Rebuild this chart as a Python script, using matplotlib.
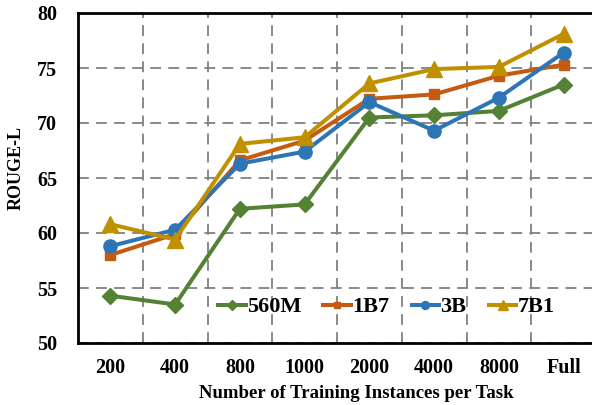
import numpy as np
import matplotlib.pyplot as plt
from matplotlib.ticker import FixedLocator

plt.rcParams['font.family'] = ['Liberation Serif', 'DejaVu Serif']
plt.rcParams['font.weight'] = 'bold'

# Data
categories = ['200', '400', '800', '1000', '2000', '4000', '8000', 'Full']
m560 = [54.3, 53.5, 62.2, 62.6, 70.5, 70.7, 71.1, 73.5]
b1b7 = [58.0, 59.9, 66.6, 68.4, 72.2, 72.6, 74.3, 75.3]
b3 = [58.8, 60.3, 66.3, 67.4, 71.9, 69.3, 72.3, 76.4]
b7b1 = [60.8, 59.4, 68.1, 68.7, 73.6, 74.9, 75.1, 78.1]

series = [
    ('560M', m560, '#548235', 'D', 8),
    ('1B7', b1b7, '#C55A11', 's', 7.5),
    ('3B', b3, '#2E75B6', 'o', 9.5),
    ('7B1', b7b1, '#BF9000', '^', 11),
]

x = np.arange(len(categories))

fig = plt.figure(figsize=(5.92, 4.05), dpi=100)
ax = fig.add_axes([78 / 592, 1 - 343 / 405, 518 / 592, 330 / 405])

for label, vals, color, marker, ms in series:
    ax.plot(x, vals, color=color, marker=marker, linewidth=2.9, markersize=ms, label=label)

ax.set_xlim(-0.5, 7.5)
ax.set_ylim(50, 80)
ax.set_yticks(np.arange(50, 81, 5))
ax.set_xticks(x)
ax.set_xticklabels(categories)
ax.xaxis.set_minor_locator(FixedLocator(np.arange(0.5, 7.5, 1)))
ax.tick_params(axis='both', which='both', length=0, labelsize=14.5)
ax.tick_params(axis='y', pad=15)
ax.tick_params(axis='x', pad=11)
ax.grid(axis='y', which='major', linestyle=(0, (6, 4)), color='#808080', linewidth=1.3)
ax.grid(axis='x', which='minor', linestyle=(0, (6, 4)), color='#808080', linewidth=1.3)
for sp in ax.spines.values():
    sp.set_linewidth(2)
    sp.set_color('black')

ax.set_xlabel('Number of Training Instances per Task', fontsize=13.5, fontweight='bold')
ax.set_ylabel('ROUGE-L', fontsize=13, fontweight='bold')
ax.xaxis.set_label_coords((356 - 78) / 518, -(393 - 343) / 330)
ax.yaxis.set_label_coords(-(78 - 16) / 518, (343 - 168) / 330)
ax.xaxis.label.set_va('center')
ax.yaxis.label.set_va('center')

ax.legend(loc='center left', bbox_to_anchor=((218 - 78) / 518, (343 - 307) / 330), ncol=4,
          frameon=False, fontsize=16, handlelength=1.25, handletextpad=0.05,
          columnspacing=1.0, markerscale=0.6, borderaxespad=0, borderpad=0)

plt.savefig('out.png', dpi=100)
